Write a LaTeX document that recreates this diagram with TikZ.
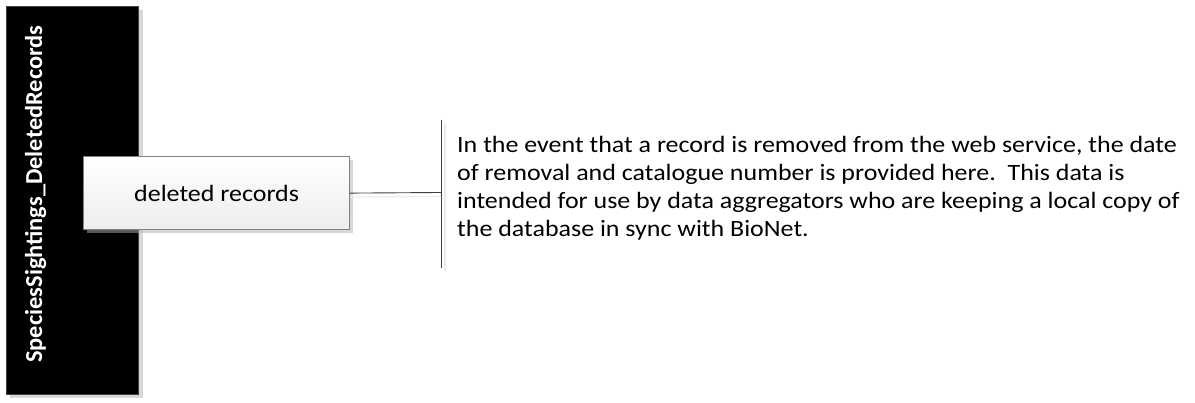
\documentclass[tikz,border=0pt]{standalone}
\usepackage{fontspec}
\setmainfont{Carlito}
\newfontfamily\widefont[FakeStretch=1.11]{Carlito}
\begin{document}
\begin{tikzpicture}[x=1pt,y=-1pt,
  bar/.style={fill=black,draw=black!75,line width=0.8pt,minimum width=132pt,minimum height=388pt,anchor=north west,inner sep=0pt},
  titletext/.style={text=white,font=\fontsize{24.4}{28}\selectfont\bfseries,rotate=90,inner sep=0pt},
  itembox/.style={draw=black!50,line width=1.2pt,top color=white,bottom color=black!7,minimum width=266pt,minimum height=73pt,anchor=north west,inner sep=0pt,font=\widefont\fontsize{23.4}{28}\selectfont},
  boxshadow/.style={fill=black!30,opacity=0.5,draw=none},
  conn/.style={draw=black!75,line width=0.9pt},
  conshadow/.style={draw=black!8,line width=1.2pt},
  desc/.style={anchor=north west,align=left,inner sep=0pt,font=\widefont\fontsize{23.4}{28.1}\selectfont}]
\useasboundingbox (0,0) rectangle (1195,403);
% shadows
\fill[boxshadow] (10,10) rectangle (143,398);
% main bar
\node[bar] (bar) at (6,6) {};
\node[titletext] (title) at (35.5,194) {SpeciesSightings\_DeletedRecords};
% item box
\fill[boxshadow] (87,160) rectangle (353,233);
\node[itembox] (del) at (83,156) {deleted records};
% connector and bracket
\coordinate (brk) at (441,192.5);
\coordinate (btop) at (441,120);
\coordinate (bbot) at (441,268);
\coordinate (brks) at (441,196.5);
\coordinate (btops) at (445,124);
\coordinate (bbots) at (445,271);
\draw[conshadow] ([yshift=-4pt]del.east) -- (brks);
\draw[conshadow] (btops) -- (bbots);
\draw[conn] (del.east) -- (brk);
\draw[conn] (btop) -- (bbot);
\node[desc] (text) at (457,136) {In the event that a record is removed from the web service, the date\\of removal and catalogue number is provided here.\ \ This data is\\intended for use by data aggregators who are keeping a local copy of\\the database in sync with BioNet.};
\end{tikzpicture}
\end{document}
